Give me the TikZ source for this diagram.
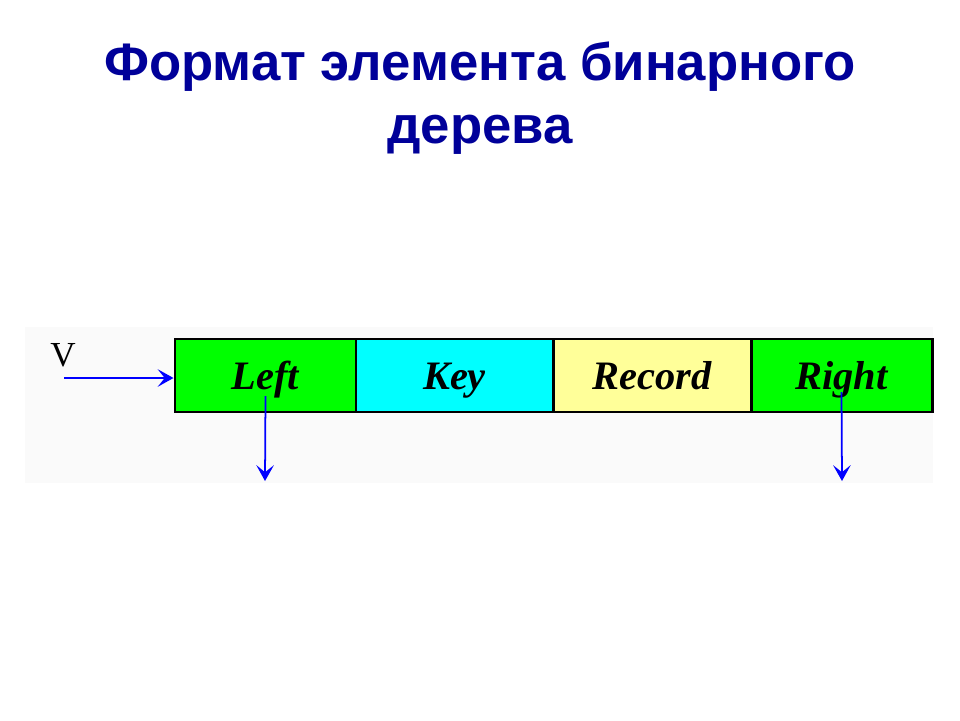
\documentclass[tikz,border=0pt]{standalone}
\usepackage{fontspec}
\setmainfont{Liberation Serif}
\newfontfamily\titlefont{Liberation Sans}
\usepackage{tikz}
\usetikzlibrary{arrows.meta}
\definecolor{titleblue}{RGB}{0,0,153}
\definecolor{cellgreen}{RGB}{0,255,0}
\definecolor{cellcyan}{RGB}{0,255,255}
\definecolor{cellyellow}{RGB}{255,255,153}
\definecolor{panelgray}{RGB}{250,250,250}

\begin{document}
\begin{tikzpicture}[x=0.02cm,y=-0.02cm,
  cell/.style={draw=black,line width=1.7pt,minimum height=73*0.02cm,inner sep=0pt,
    text height=18pt,text depth=2pt,
    font=\fontsize{23}{26}\selectfont\bfseries\itshape},
  link/.style={draw=blue,line width=1pt,-{Stealth[length=9pt,width=10pt,inset=4pt]}}]
\useasboundingbox (0,0) rectangle (960,720);
% Title
\node[font=\titlefont\fontsize{30}{36}\selectfont\bfseries,text=titleblue,align=center]
  (title) at (480,98) {Формат элемента бинарного\\дерева};
% Light panel behind the record
\fill[panelgray] (25,327) rectangle (933,483);
% Fields of the element
\node[cell,fill=cellgreen,minimum width=181*0.02cm] (left) at (265.5,375.5) {Left};
\node[cell,fill=cellcyan,minimum width=197*0.02cm] (key) at (454.5,375.5) {Key};
\node[cell,fill=cellyellow,minimum width=198*0.02cm] (record) at (652,375.5) {Record};
\node[cell,fill=cellgreen,minimum width=181*0.02cm] (right) at (841.5,375.5) {Right};
% Pointer V and links
\node[font=\fontsize{20}{22}\selectfont] (v) at (63,355) {V};
\coordinate (vstart) at (64,378);
\coordinate (leftend) at (265,481);
\coordinate (rightend) at (842,481);
\draw[link] (vstart) -- (left.west |- vstart);
\draw[link] (left.center |- 0,396) -- (leftend);
\draw[link] (right.center |- 0,392) -- (rightend);
\end{tikzpicture}
\end{document}
